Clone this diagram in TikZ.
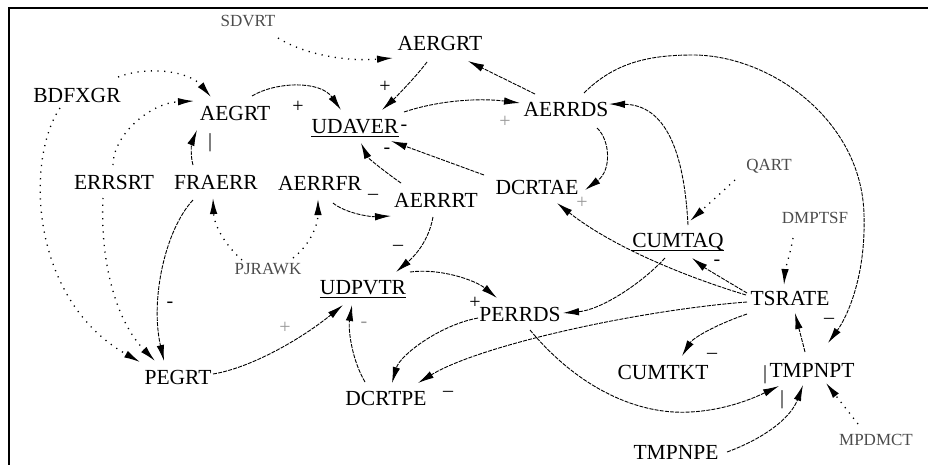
\documentclass[tikz,border=0pt]{standalone}
\usepackage{fontspec}
\setmainfont{Liberation Serif}
\usetikzlibrary{arrows.meta,calc}

\begin{document}
\begin{tikzpicture}[x=1pt,y=-1pt,
  var/.style={inner sep=0pt, text height=14.2pt, text depth=0pt, font=\fontsize{21.5}{24}\selectfont},
  aux/.style={inner sep=0pt, text height=11.2pt, text depth=0pt, font=\fontsize{17}{20}\selectfont, text=black!70},
  pol/.style={inner sep=0pt, font=\fontsize{20}{22}\selectfont},
  polg/.style={pol, text=black!40},
  link/.style={line width=0.9pt, dash pattern=on 4pt off 1.2pt, -{Latex[length=16pt,width=7.5pt]}},
  info/.style={line width=1.3pt, dash pattern=on 1.2pt off 5.5pt, -{Latex[length=16pt,width=7.5pt]}},
  uline/.style={line width=1.2pt}
]
\useasboundingbox (0,0) rectangle (928,464);
\fill[white] (0,0) rectangle (928,464);

% frame
\draw[line width=2pt] (9,470) -- (9,8) -- (935,8);

% variables
\node[aux] (sdvrt)  at (248,21)  {SDVRT};
\node[var] (aergrt) at (440,43)  {AERGRT};
\node[var] (bdfxgr) at (77,95)   {BDFXGR};
\node[var] (aegrt)  at (235,113) {AEGRT};
\node[var] (udaver) at (355,126) {UDAVER};
\node[var] (aerrds) at (566,109) {AERRDS};
\node[var] (errsrt) at (114,182) {ERRSRT};
\node[var] (fraerr) at (216,182) {FRAERR};
\node[var] (aerrfr) at (320,183) {AERRFR};
\node[var] (aerrrt) at (436,200) {AERRRT};
\node[var] (dcrtae) at (537,187) {DCRTAE};
\node[aux] (qart)   at (769,165) {QART};
\node[aux] (dmptsf) at (815,218) {DMPTSF};
\node[var] (cumtaq) at (678,240) {CUMTAQ};
\node[aux] (pjrawk) at (268,269) {PJRAWK};
\node[var] (udpvtr) at (363,287) {UDPVTR};
\node[var] (tsrate) at (790,298) {TSRATE};
\node[var] (perrds) at (520,314) {PERRDS};
\node[var] (pegrt)  at (178,377) {PEGRT};
\node[var] (dcrtpe) at (386,398) {DCRTPE};
\node[var] (cumtkt) at (663,372) {CUMTKT};
\node[var] (tmpnpt) at (812,370) {TMPNPT};
\node[var] (tmpnpe) at (676,452) {TMPNPE};
\node[aux] (mpdmct) at (876,440) {MPDMCT};

% levels are underlined
\foreach \n in {udaver,cumtaq,udpvtr}
  \draw[uline] ($(\n.base west)+(0,3.5)$) -- ($(\n.base east)+(0,3.5)$);

% information links (dotted)
\draw[info] ($(sdvrt)+(30,17)$) .. controls (300,52) and (340,62) .. ($(aergrt)+(-47,15)$);
\draw[info] ($(bdfxgr)+(41,-18)$) .. controls (150,65) and (190,72) .. ($(aegrt)+(-24,-16)$);
\draw[info] ($(errsrt)+(-1,-17)$) .. controls (113,135) and (150,103) .. ($(aegrt)+(-41,-12)$);
\draw[info] ($(bdfxgr)+(-17,13)$) .. controls (25,160) and (30,300) .. ($(pegrt)+(-38,-15)$);
\draw[info] ($(errsrt)+(-11,16)$) .. controls (100,260) and (115,320) .. ($(pegrt)+(-23,-16)$);
\draw[info] ($(pjrawk)+(-26,-9)$) .. controls (225,245) and (214,225) .. ($(fraerr)+(-3,16)$);
\draw[info] ($(pjrawk)+(25,-11)$) .. controls (310,245) and (318,225) .. ($(aerrfr)+(-2,16)$);
\draw[info] ($(qart)+(-34,15)$) -- ($(cumtaq)+(12,-19)$);
\draw[info] ($(dmptsf)+(-22,20)$) .. controls (790,255) and (785,270) .. ($(tsrate)+(-6,-13)$);
\draw[info] ($(mpdmct)+(-18,-16)$) -- ($(tmpnpt)+(14,13)$);

% causal links
\draw[link] ($(aergrt)+(-13,19)$) .. controls (415,78) and (395,98) .. ($(udaver)+(27,-16)$);
\draw[link] ($(aerrds)+(-31,-15)$) -- ($(aergrt)+(28,18)$);
\draw[link] ($(udaver)+(49,-14)$) .. controls (440,100) and (480,98) .. ($(aerrds)+(-46,-6)$);
\draw[link] ($(aegrt)+(17,-17)$) .. controls (275,82) and (320,80) .. ($(udaver)+(-14,-16)$);
\draw[link] ($(dcrtae)+(-53,-12)$) -- ($(udaver)+(36,15)$);
\draw[link] ($(aerrrt)+(-35,-17)$) .. controls (385,172) and (368,158) .. ($(udaver)+(6,17)$);
\draw[link] ($(aerrds)+(31,19)$) .. controls (610,140) and (612,170) .. ($(dcrtae)+(48,3)$);
\draw[link] ($(cumtaq)+(10,-15)$) .. controls (684,150) and (665,105) .. ($(aerrds)+(43,-5)$);
\draw[link] ($(aerrds)+(18,-16)$) .. controls (615,62) and (650,55) .. (693,55)
  .. controls (770,55) and (862,120) .. (864,215)
  .. controls (866,280) and (845,320) .. ($(tmpnpt)+(16,-27)$);
\draw[link] ($(tsrate)+(-43,-5)$) .. controls (725,280) and (705,268) .. ($(cumtaq)+(14,18)$);
\draw[link] ($(tsrate)+(-44,-3)$) .. controls (680,275) and (610,245) .. ($(dcrtae)+(20,16)$);
\draw[link] ($(cumtaq)+(-13,18)$) .. controls (640,285) and (600,310) .. ($(perrds)+(43,-1)$);
\draw[link] ($(tsrate)+(-43,4)$) .. controls (640,310) and (480,345) .. ($(dcrtpe)+(32,-15)$);
\draw[link] ($(tsrate)+(-43,16)$) .. controls (715,325) and (693,338) .. ($(cumtkt)+(19,-16)$);
\draw[link] ($(tmpnpt)+(-7,-18)$) .. controls (802,340) and (798,325) .. ($(tsrate)+(5,15)$);
\draw[link] ($(perrds)+(10,16)$) .. controls (580,390) and (640,415) .. (690,412)
  .. controls (730,410) and (760,395) .. ($(tmpnpt)+(-33,16)$);
\draw[link] ($(tmpnpe)+(51,0)$) .. controls (760,440) and (790,420) .. ($(tmpnpt)+(-9,15)$);
\draw[link] ($(perrds)+(-42,4)$) .. controls (440,325) and (400,355) .. ($(dcrtpe)+(6,-15)$);
\draw[link] ($(dcrtpe)+(-21,-16)$) .. controls (352,360) and (348,330) .. ($(udpvtr)+(-11,18)$);
\draw[link] ($(pegrt)+(35,-3)$) .. controls (250,368) and (300,340) .. ($(udpvtr)+(-20,18)$);
\draw[link] ($(fraerr)+(-23,18)$) .. controls (165,230) and (150,300) .. ($(pegrt)+(-14,-16)$);
\draw[link] ($(fraerr)+(-23,-17)$) .. controls (190,155) and (192,142) .. ($(aegrt)+(-38,17)$);
\draw[link] ($(aerrfr)+(13,20)$) .. controls (345,213) and (370,217) .. ($(aerrrt)+(-45,16)$);
\draw[link] ($(aerrrt)+(-3,17)$) .. controls (428,245) and (410,260) .. ($(udpvtr)+(33,-15)$);
\draw[link] ($(udpvtr)+(47,-15)$) .. controls (440,268) and (475,280) .. ($(perrds)+(-23,-16)$);

% link polarities
\node[pol]  (p1)  at (298,107) {+};
\node[pol]  (p2)  at (385,87)  {+};
\node[polg] (p3)  at (505,122) {+};
\node[pol]  (p4)  at (404,128) {-};
\node[pol]  (p5)  at (387,151) {-};
\node[pol]  (p6)  at (210,143) {|};
\node[pol]  (p7)  at (373,197) {–};
\node[polg] (p8)  at (582,203) {+};
\node[pol]  (p9)  at (398,248) {–};
\node[pol]  (p10) at (717,263) {-};
\node[pol]  (p11) at (170,305) {-};
\node[polg] (p12) at (285,328) {+};
\node[polg] (p13) at (364,325) {-};
\node[pol]  (p14) at (475,303) {+};
\node[pol]  (p15) at (829,321) {–};
\node[pol]  (p16) at (712,356) {–};
\node[pol]  (p17) at (448,394) {–};
\node[pol]  (p18) at (765,375) {|};
\node[pol]  (p19) at (782,400) {|};
\end{tikzpicture}
\end{document}
